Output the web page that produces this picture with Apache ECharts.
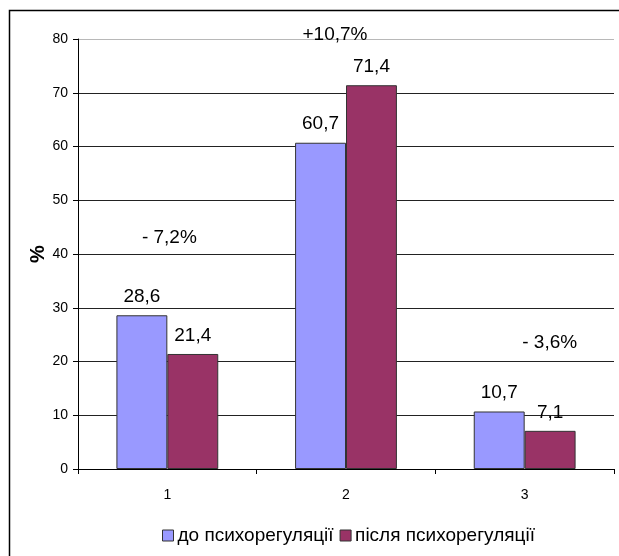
<!DOCTYPE html>
<html>
<head>
<meta charset="utf-8">
<script src="https://cdn.jsdelivr.net/npm/echarts@6/dist/echarts.min.js"></script>
<style>
  html, body { margin: 0; padding: 0; background: #fff; }
  #chart { width: 619px; height: 556px; }
</style>
</head>
<body>
<div id="chart"></div>
<script>
// Categories and the two measurement series (percent)
var categories = ['1', '2', '3'];
var seriesNames = ['до психорегуляції', 'після психорегуляції'];
var before = [28.6, 60.7, 10.7];
var after = [21.4, 71.4, 7.1];

// Change annotations above each group, with the height they sit at
var changeLabels = ['- 7,2%', '+10,7%', '- 3,6%'];
var changeY = [43, 80.7, 23.4];
var changeDx = [2, -11, 25];

var yTicks = [0, 10, 20, 30, 40, 50, 60, 70, 80];

var font = '"Liberation Sans", Arial, sans-serif';

function fmt(v) { return String(v).replace('.', ','); }

var chart = echarts.init(document.getElementById('chart'), null, { renderer: 'canvas' });

var gridColors = yTicks.map(function (t, i) { return i === yTicks.length - 1 ? '#b8b8b8' : '#222'; });

var barLabel = {
  show: true,
  position: 'top',
  distance: 9,
  fontFamily: font,
  fontSize: 19,
  color: '#000',
  formatter: function (p) { return fmt(p.value); }
};

chart.setOption({
  backgroundColor: '#fff',
  animation: false,
  textStyle: { fontFamily: font },
  graphic: [{
    type: 'rect',
    shape: { x: 9.5, y: 10.5, width: 640, height: 600 },
    style: { fill: 'none', stroke: '#000', lineWidth: 1.5 },
    silent: true,
    z: 100
  }],
  grid: { left: 78, top: 39, right: 5, bottom: 87 },
  legend: {
    bottom: 6,
    left: 157,
    itemWidth: 11,
    itemHeight: 11,
    itemGap: 6,
    icon: 'rect',
    itemStyle: { borderColor: '#333', borderWidth: 1 },
    textStyle: { fontFamily: font, fontSize: 19, color: '#000', padding: [0, 0, 0, -1] },
    data: seriesNames
  },
  xAxis: {
    type: 'category',
    data: categories,
    axisLine: { lineStyle: { color: '#000', width: 1 } },
    axisTick: { show: true, length: 5, lineStyle: { color: '#000' } },
    axisLabel: { fontFamily: font, fontSize: 14, color: '#000', margin: 19 }
  },
  yAxis: {
    type: 'value',
    min: 0,
    max: 80,
    interval: 10,
    name: '%',
    nameLocation: 'middle',
    nameGap: 30,
    nameMoveOverlap: false,
    nameTextStyle: { fontFamily: font, fontSize: 20, fontWeight: 'bold', color: '#000' },
    axisLine: { show: true, lineStyle: { color: '#000', width: 1 } },
    axisTick: { show: true, length: 5, lineStyle: { color: '#000' } },
    axisLabel: { fontFamily: font, fontSize: 14, color: '#000', margin: 10 },
    splitLine: { show: true, lineStyle: { color: gridColors, width: 1 } }
  },
  series: [
    {
      name: seriesNames[0],
      type: 'bar',
      data: before,
      barGap: '0%',
      barCategoryGap: '43%',
      itemStyle: { color: '#9999FF', borderColor: '#333', borderWidth: 1 },
      label: barLabel
    },
    {
      name: seriesNames[1],
      type: 'bar',
      data: after,
      itemStyle: { color: '#993366', borderColor: '#333', borderWidth: 1 },
      label: barLabel
    },
    {
      name: 'change',
      type: 'scatter',
      clip: false,
      symbolSize: 0,
      silent: true,
      itemStyle: { opacity: 1 },
      data: changeLabels.map(function (t, i) {
        return {
          value: [i, changeY[i]],
          label: {
            show: true,
            position: 'inside',
            offset: [changeDx[i], 0],
            formatter: t,
            fontFamily: font,
            fontSize: 19,
            color: '#000',
            opacity: 1,
            textBorderWidth: 0
          }
        };
      })
    }
  ]
});
</script>
</body>
</html>
